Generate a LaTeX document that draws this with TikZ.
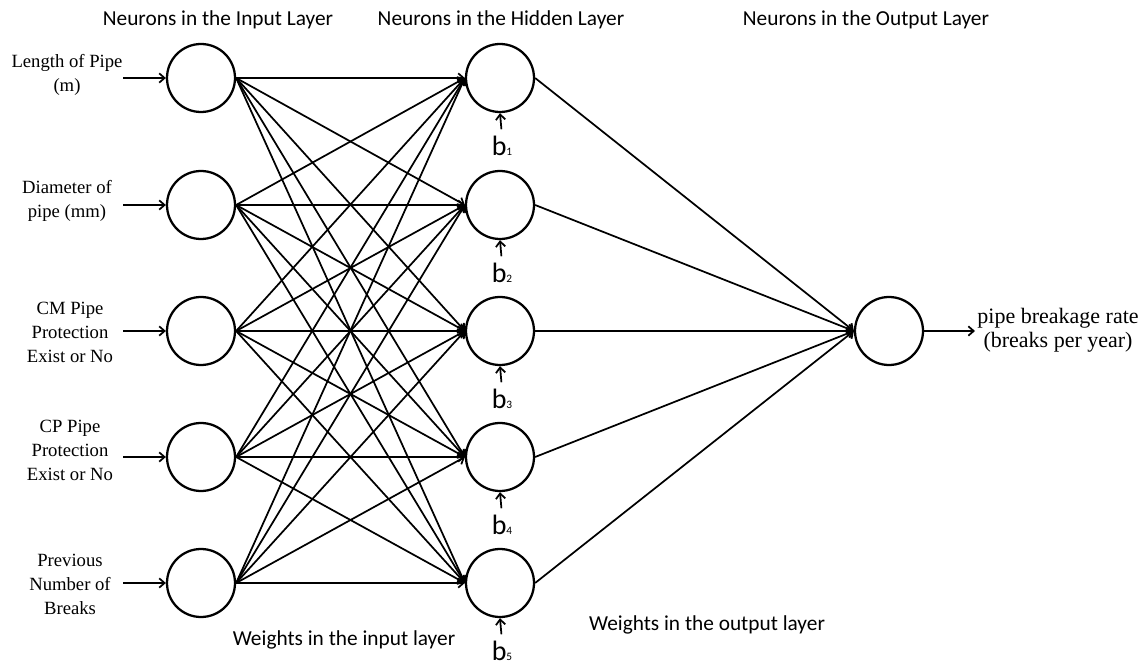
\documentclass[tikz,border=0pt]{standalone}
\usepackage{fontspec}
\setmainfont{Liberation Serif}
\newfontfamily\calfont{Carlito}
\usetikzlibrary{arrows.meta}
\begin{document}
\begin{tikzpicture}[x=0.75pt,y=-0.75pt,
  neuron/.style={circle,draw,line width=1.7pt,minimum size=51pt,inner sep=0pt},
  conn/.style={line width=1.3pt,-{Straight Barb[length=4pt,width=7pt]}},
  head/.style={font=\calfont\fontsize{16}{19}\selectfont,inner sep=0pt},
  inlabel/.style={font=\fontsize{14}{18}\selectfont,align=center,inner sep=0pt},
  outlabel/.style={font=\fontsize{16.5}{18}\selectfont,align=center,inner sep=0pt},
  biaslabel/.style={font=\calfont\fontsize{21}{21}\selectfont,inner sep=0pt}
]
\useasboundingbox (0,0) rectangle (1145,666);

% headings
\node[head] (hin)  at (218,20) {Neurons in the Input Layer};
\node[head] (hhid) at (501,20) {Neurons in the Hidden Layer};
\node[head] (hout) at (866,20) {Neurons in the Output Layer};
\node[head] (win)  at (344,640) {Weights in the input layer};
\node[head] (wout) at (707,625) {Weights in the output layer};

% neurons
\foreach \i/\y in {1/78,2/205,3/331,4/457,5/583}{
  \node[neuron] (in\i) at (201,\y) {};
  \node[neuron] (h\i) at (500,\y) {};
  \coordinate (src\i) at (123,\y);
}
\node[neuron] (out) at (889,331) {};
\coordinate (res) at (975,331);

% input labels
\node[inlabel] (l1) at (67,75)  {Length of Pipe\\(m)};
\node[inlabel] (l2) at (67,201) {Diameter of\\pipe (mm)};
\node[inlabel] (l3) at (70,332) {CM Pipe\\Protection\\Exist or No};
\node[inlabel] (l4) at (70,450) {CP Pipe\\Protection\\Exist or No};
\node[inlabel] (l5) at (70,584) {Previous\\Number of\\Breaks};
\node[outlabel] (lout) at (1058,330) {pipe breakage rate\\(breaks per year)};

% input arrows
\foreach \i in {1,...,5}{
  \draw[conn] (src\i) -- (in\i.west);
}
% input -> hidden
\foreach \i in {1,...,5}{
  \foreach \j in {1,...,5}{
    \draw[conn] (in\i.east) -- (h\j.west);
  }
}
% hidden -> output
\foreach \j in {1,...,5}{
  \draw[conn] (h\j.east) -- (out.west);
}
\draw[conn] (out.east) -- (res);

% biases
\foreach \i/\y in {1/78,2/205,3/331,4/457,5/583}{
  \node[biaslabel] (b\i) at (502,\y+68) {b{\fontsize{8.5}{8.5}\selectfont \i}};
  \draw[conn,shorten <=5pt] (b\i.north) -- (h\i.south);
}
\end{tikzpicture}
\end{document}
